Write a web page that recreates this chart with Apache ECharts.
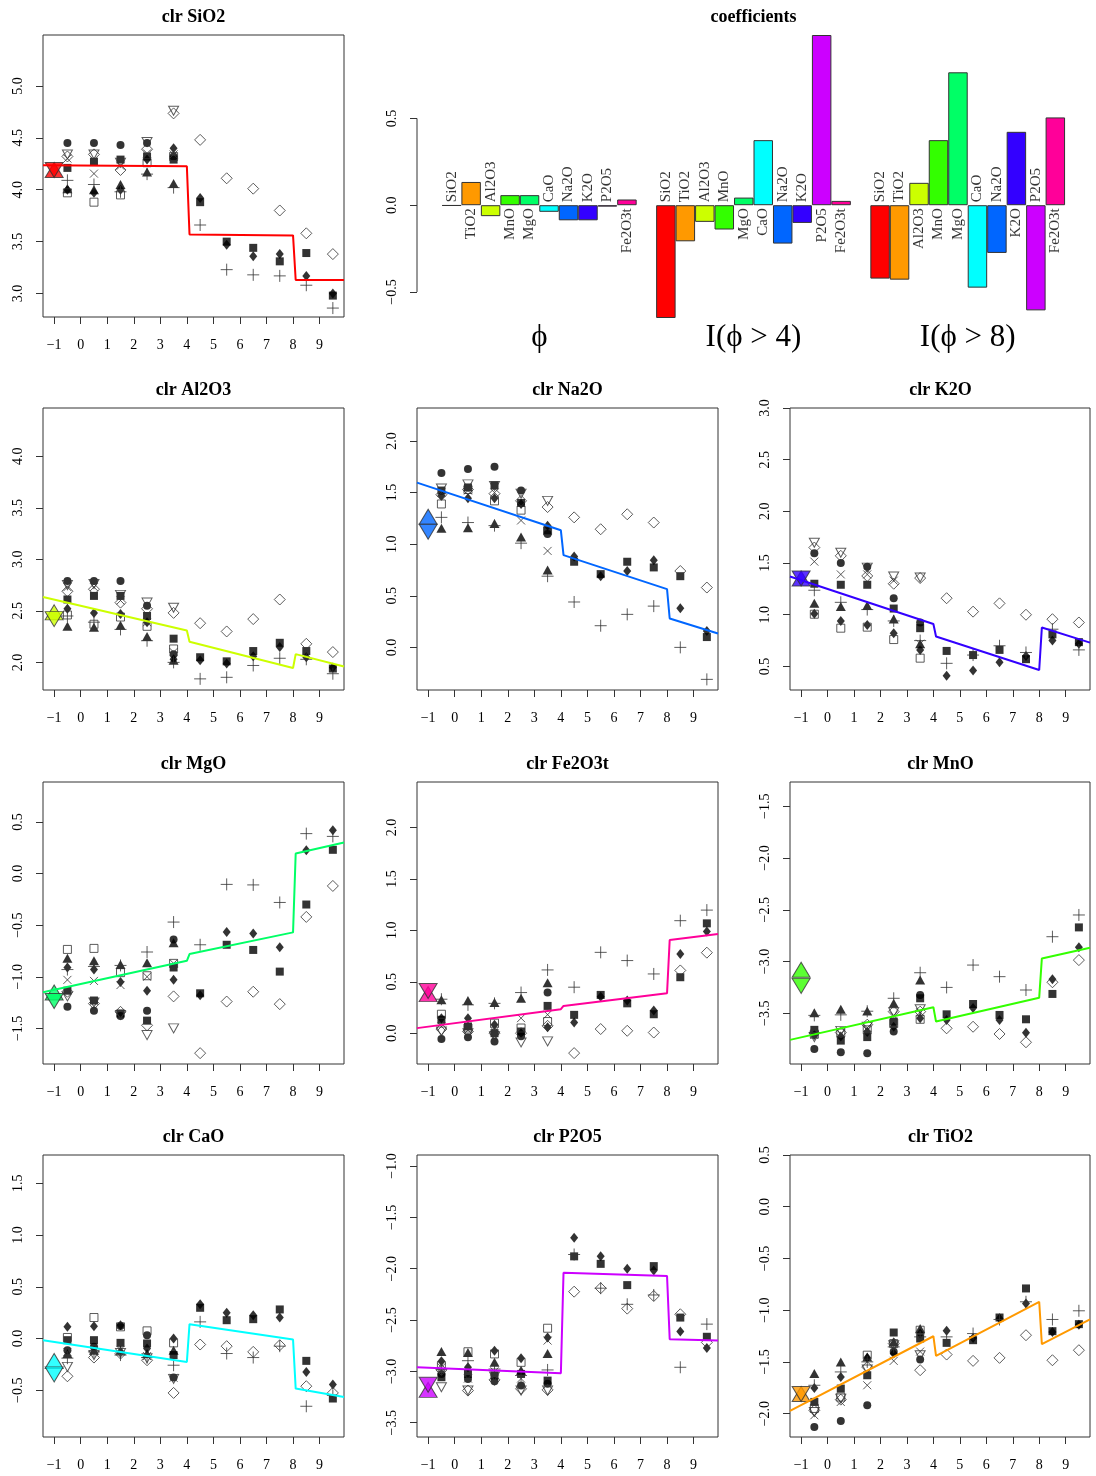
<!DOCTYPE html>
<html>
<head>
<meta charset="utf-8">
<script src="https://cdn.jsdelivr.net/npm/echarts@6/dist/echarts.min.js"></script>
<style>
  html, body { margin: 0; padding: 0; background: #fff; }
  #chart { width: 1096px; height: 1476px; }
</style>
</head>
<body>
<div id="chart"></div>
<script>
// grain-size classes (phi) and axis ticks
const phiMid = [-0.5, 0.5, 1.5, 2.5, 3.5, 4.5, 5.5, 6.5, 7.5, 8.5, 9.5]
const phiTicks = [-1, 0, 1, 2, 3, 4, 5, 6, 7, 8, 9]
const phiRange = [-1.42, 9.92]
const fitKnots = [-1.42, 4, 4.1, 8, 8.1, 9.92]

// the nine samples, each with its own marker; rows of every pts* array follow this order
const sampleMarks = ['fcirc', 'fsq', 'fdia', 'ftri', 'osq', 'odia', 'otri', 'xcross', 'plus']

const components = ['SiO2', 'TiO2', 'Al2O3', 'MnO', 'MgO', 'CaO', 'Na2O', 'K2O', 'P2O5', 'Fe2O3t']
const componentColors = ['#FF0000', '#FF9900', '#CCFF00', '#33FF00', '#00FF66', '#00FFFF', '#0066FF', '#3300FF', '#CC00FF', '#FF0099']

// regression coefficients
const coefPhi = [-0.003, 0.134, -0.063, 0.058, 0.058, -0.038, -0.087, -0.087, -0.008, 0.033]
const coefPhi4 = [-0.65, -0.208, -0.096, -0.14, 0.044, 0.375, -0.221, -0.102, 0.981, 0.025]
const coefPhi8 = [-0.423, -0.429, 0.129, 0.375, 0.766, -0.475, -0.275, 0.423, -0.606, 0.506]
const coefGroups = ['\u03d5', 'I(\u03d5 > 4)', 'I(\u03d5 > 8)']
const coefTicks = [-0.5, 0, 0.5]
const coefRange = [-0.65, 0.981]

// clr values per sample
const ptsSiO2 = [
  [4.45, 4.45, 4.43, 4.45, 4.32],
  [4.21, 4.27, 4.29, 4.32, 4.29, 3.88, 3.50, 3.44, 3.31, 3.39, 2.98],
  [4.00, 3.97, 4.00, 4.29, 4.40, 3.92, 3.47, 3.36, 3.38, 3.17, 3.00],
  [4.01, 4.00, 4.05, 4.17, 4.06],
  [3.97, 3.88, 3.95, 4.26, 4.32],
  [4.32, 4.34, 4.19, 4.39, 4.735, 4.48, 4.11, 4.01, 3.80, 3.58, 3.38],
  [4.34, 4.34, 4.26, 4.46, 4.76],
  [4.30, 4.155, 4.23, 4.35, 4.34],
  [4.09, 4.05, 3.98, 4.15, 4.02, 3.66, 3.23, 3.18, 3.17, 3.08, 2.86]
]
const ptsAl2O3 = [
  [2.79, 2.79, 2.79, 2.55, 2.08],
  [2.61, 2.645, 2.645, 2.45, 2.23, 2.05, 2.01, 2.11, 2.19, 2.11, 1.94],
  [2.52, 2.48, 2.47, 2.39, 2.03, 2.02, 1.99, 2.06, 2.15, 2.05, 1.95],
  [2.35, 2.34, 2.36, 2.25, 2.02],
  [2.46, 2.37, 2.44, 2.35, 2.13],
  [2.69, 2.71, 2.58, 2.52, 2.48, 2.38, 2.30, 2.42, 2.61, 2.18, 2.10],
  [2.75, 2.76, 2.655, 2.58, 2.53],
  [2.73, 2.73, 2.60, 2.39, 2.10],
  [2.45, 2.39, 2.32, 2.21, 2.00, 1.84, 1.855, 1.97, 2.04, 2.03, 1.89]
]
const ptsNa2O = [
  [1.69, 1.73, 1.75, 1.52, 1.10],
  [1.52, 1.55, 1.57, 1.40, 1.13, 0.83, 0.71, 0.83, 0.775, 0.69, 0.10],
  [1.47, 1.445, 1.445, 1.39, 1.18, 0.88, 0.69, 0.74, 0.845, 0.38, 0.16],
  [1.155, 1.16, 1.20, 1.07, 0.75],
  [1.39, 1.53, 1.42, 1.33, 1.13],
  [1.48, 1.53, 1.49, 1.42, 1.36, 1.26, 1.145, 1.29, 1.21, 0.74, 0.58],
  [1.54, 1.58, 1.565, 1.49, 1.42],
  [1.50, 1.52, 1.50, 1.23, 0.935],
  [1.26, 1.21, 1.18, 1.01, 0.69, 0.44, 0.21, 0.32, 0.40, 0.00, -0.31]
]
const ptsK2O = [
  [1.594, 1.50, 1.465, 1.16, 0.925],
  [1.30, 1.29, 1.29, 1.06, 0.87, 0.65, 0.61, 0.66, 0.57, 0.81, 0.735],
  [1.01, 0.94, 0.90, 0.82, 0.66, 0.41, 0.46, 0.54, 0.60, 0.75, 0.72],
  [1.11, 1.08, 1.09, 0.96, 0.72],
  [1.005, 0.87, 0.88, 0.76, 0.58],
  [1.65, 1.57, 1.375, 1.30, 1.355, 1.16, 1.03, 1.11, 1.00, 0.957, 0.925],
  [1.697, 1.60, 1.456, 1.37, 1.36],
  [1.514, 1.39, 1.39, 1.33, 0.72],
  [1.237, 1.12, 1.05, 0.94, 0.75, 0.53, 0.61, 0.70, 0.635, 0.86, 0.66]
]
const ptsMgO = [
  [-1.29, -1.33, -1.38, -1.33, -0.64],
  [-1.135, -1.23, -1.355, -1.425, -0.91, -1.16, -0.69, -0.74, -0.95, -0.30, 0.23],
  [-0.91, -0.93, -1.05, -1.135, -1.03, -1.18, -0.565, -0.58, -0.715, 0.226, 0.42],
  [-0.82, -0.845, -0.88, -0.865, -0.67],
  [-0.735, -0.725, -0.96, -0.99, -0.87],
  [-1.145, -1.26, -1.34, -1.47, -1.19, -1.74, -1.24, -1.145, -1.265, -0.42, -0.12],
  [-1.19, -1.25, -1.37, -1.565, -1.50],
  [-1.03, -1.04, -1.08, -1.00, -0.87],
  [-0.93, -0.90, -0.89, -0.76, -0.47, -0.69, -0.105, -0.11, -0.28, 0.387, 0.36]
]
const ptsFe2O3t = [
  [-0.058, -0.04, -0.08, -0.03, 0.395],
  [0.13, 0.065, 0.0, 0.016, 0.265, 0.178, 0.372, 0.29, 0.184, 0.544, 1.068],
  [0.146, 0.146, 0.081, 0.0, 0.058, 0.104, 0.355, 0.317, 0.22, 0.77, 0.99],
  [0.324, 0.317, 0.298, 0.34, 0.49],
  [0.184, 0.05, 0.097, 0.05, 0.113],
  [0.04, 0.016, 0.0, 0.0, 0.071, -0.194, 0.04, 0.023, 0.006, 0.61, 0.783],
  [0.016, 0.0, -0.03, -0.09, -0.08],
  [0.065, 0.03, 0.02, 0.146, 0.18],
  [0.33, 0.275, 0.29, 0.395, 0.615, 0.447, 0.786, 0.706, 0.576, 1.094, 1.197]
]
const ptsMnO = [
  [-3.844, -3.876, -3.886, -3.677, -3.323],
  [-3.66, -3.764, -3.73, -3.58, -3.355, -3.51, -3.41, -3.516, -3.558, -3.313, -2.67],
  [-3.71, -3.725, -3.68, -3.63, -3.548, -3.564, -3.45, -3.564, -3.687, -3.172, -2.863],
  [-3.494, -3.46, -3.477, -3.404, -3.178],
  [-3.70, -3.69, -3.66, -3.60, -3.558],
  [-3.69, -3.686, -3.61, -3.484, -3.484, -3.645, -3.63, -3.70, -3.78, -3.20, -2.986],
  [-3.73, -3.67, -3.63, -3.49, -3.46],
  [-3.71, -3.70, -3.64, -3.52, -3.49],
  [-3.52, -3.515, -3.48, -3.355, -3.108, -3.25, -3.034, -3.146, -3.275, -2.76, -2.55]
]
const ptsCaO = [
  [-0.113, -0.08, 0.12, 0.032, -0.377],
  [-0.016, -0.016, -0.042, -0.048, -0.16, 0.297, 0.177, 0.187, 0.281, -0.216, -0.58],
  [0.113, 0.119, 0.129, -0.097, 0.0, 0.332, 0.248, 0.226, 0.203, -0.323, -0.445],
  [-0.145, -0.113, -0.113, -0.145, -0.113],
  [0.01, 0.203, 0.113, 0.074, -0.042],
  [-0.365, -0.184, -0.145, -0.21, -0.526, -0.058, -0.074, -0.129, -0.065, -0.461, -0.526],
  [-0.274, -0.16, -0.14, -0.19, -0.39],
  [-0.13, -0.12, -0.11, -0.17, -0.38],
  [-0.19, -0.129, -0.16, -0.184, -0.258, 0.161, -0.145, -0.184, -0.074, -0.655, -0.55]
]
const ptsP2O5 = [
  [-3.025, -3.074, -3.096, -3.138, -3.12],
  [-3.057, -3.025, -3.04, -3.025, -3.09, -1.88, -1.953, -2.16, -1.975, -2.476, -2.663],
  [-2.902, -2.96, -2.80, -2.873, -2.67, -1.70, -1.88, -2.0, -2.017, -2.612, -2.773],
  [-2.806, -2.815, -2.91, -2.99, -2.825],
  [-2.944, -2.809, -2.83, -2.912, -2.58],
  [-2.986, -3.187, -3.083, -3.17, -3.18, -2.224, -2.19, -2.389, -2.266, -2.444, -2.718],
  [-3.154, -3.187, -3.05, -3.187, -3.187],
  [-2.96, -3.07, -3.0, -3.07, -2.70],
  [-2.977, -2.896, -2.977, -3.04, -2.986, -1.862, -2.19, -2.347, -2.256, -2.96, -2.54]
]
const ptsTiO2 = [
  [-2.129, -2.071, -1.919, -1.403, -1.477],
  [-1.887, -1.758, -1.629, -1.216, -1.274, -1.316, -1.29, -1.071, -0.79, -1.203, -1.135],
  [-1.752, -1.645, -1.46, -1.419, -1.226, -1.2, -1.27, -1.08, -0.935, -1.21, -1.14],
  [-1.613, -1.5, -1.452, -1.306, -1.177],
  [-1.95, -1.84, -1.435, -1.323, -1.194],
  [-1.968, -1.865, -1.55, -1.323, -1.58, -1.429, -1.49, -1.461, -1.242, -1.484, -1.387],
  [-1.984, -1.855, -1.574, -1.34, -1.435],
  [-2.016, -1.887, -1.726, -1.49, -1.40],
  [-1.726, -1.597, -1.5, -1.355, -1.258, -1.258, -1.226, -1.09, -0.919, -1.09, -1.006]
]

// fitted line, read at fitKnots
const fitSiO2 = [4.235, 4.225, 3.568, 3.56, 3.13, 3.13]
const fitAl2O3 = [2.635, 2.31, 2.2, 1.945, 2.08, 1.96]
const fitNa2O = [1.597, 1.135, 0.894, 0.565, 0.28, 0.135]
const fitK2O = [1.37, 0.91, 0.79, 0.465, 0.876, 0.73]
const fitMgO = [-1.15, -0.845, -0.78, -0.57, 0.194, 0.3]
const fitFe2O3t = [0.049, 0.233, 0.265, 0.388, 0.906, 0.964]
const fitMnO = [-3.757, -3.442, -3.58, -3.349, -2.97, -2.867]
const fitCaO = [-0.016, -0.226, 0.139, -0.01, -0.484, -0.565]
const fitP2O5 = [-2.96, -3.019, -2.04, -2.072, -2.686, -2.70]
const fitTiO2 = [-1.974, -1.252, -1.442, -0.919, -1.329, -1.09]

// reference marker at phi = -1: [triangle up, triangle down]
const refSiO2 = [4.19, 4.19]
const refAl2O3 = [2.485, 2.42]
const refNa2O = [1.266, 1.12]
const refK2O = [1.35, 1.35]
const refMgO = [-1.153, -1.234]
const refFe2O3t = [0.38, 0.41]
const refMnO = [-3.08, -3.235]
const refCaO = [-0.218, -0.347]
const refP2O5 = [-3.18, -3.13]
const refTiO2 = [-1.81, -1.81]

// panels in reading order, with their y limits and ticks
const panelComp = ['SiO2', 'Al2O3', 'Na2O', 'K2O', 'MgO', 'Fe2O3t', 'MnO', 'CaO', 'P2O5', 'TiO2']
const panelYLim = [[2.774, 5.49], [1.732, 4.468], [-0.413, 2.32], [0.272, 3.0], [-1.845, 0.887],
  [-0.30, 2.443], [-3.99, -1.265], [-0.952, 1.774], [-3.639, -0.893], [-2.226, 0.5]]
const panelYTicks = [
  [3, 3.5, 4, 4.5, 5], [2, 2.5, 3, 3.5, 4], [0, 0.5, 1, 1.5, 2], [0.5, 1, 1.5, 2, 2.5, 3],
  [-1.5, -1, -0.5, 0, 0.5], [0, 0.5, 1, 1.5, 2], [-3.5, -3, -2.5, -2, -1.5], [-0.5, 0, 0.5, 1, 1.5],
  [-3.5, -3, -2.5, -2, -1.5, -1], [-2, -1.5, -1, -0.5, 0, 0.5]
]

const pointSets = { SiO2: ptsSiO2, Al2O3: ptsAl2O3, Na2O: ptsNa2O, K2O: ptsK2O, MgO: ptsMgO,
  Fe2O3t: ptsFe2O3t, MnO: ptsMnO, CaO: ptsCaO, P2O5: ptsP2O5, TiO2: ptsTiO2 }
const fitSets = { SiO2: fitSiO2, Al2O3: fitAl2O3, Na2O: fitNa2O, K2O: fitK2O, MgO: fitMgO,
  Fe2O3t: fitFe2O3t, MnO: fitMnO, CaO: fitCaO, P2O5: fitP2O5, TiO2: fitTiO2 }
const refSets = { SiO2: refSiO2, Al2O3: refAl2O3, Na2O: refNa2O, K2O: refK2O, MgO: refMgO,
  Fe2O3t: refFe2O3t, MnO: refMnO, CaO: refCaO, P2O5: refP2O5, TiO2: refTiO2 }

// layout
const panelCell = [[0, 0], [1, 0], [1, 1], [1, 2], [2, 0], [2, 1], [2, 2], [3, 0], [3, 1], [3, 2]]
const colLeft = [43, 417, 790]
const rowTop = [35, 408, 782, 1155]
const boxW = 301
const boxH = 282
const coefBox = { left: 417, top: 35, width: 673, height: 283 }
const coefXRange = [-0.28, 34.28]

const serif = '"Liberation Serif", "DejaVu Serif", serif'
const ink = '#333'
const minus = (v) => String(v).replace('-', '\u2212')
const fmt1 = (v) => minus(Number(v).toFixed(1))

function markStyle(mk) {
  const open = { color: 'rgba(0,0,0,0)', borderColor: ink, borderWidth: 1 }
  switch (mk) {
    case 'fcirc': return { symbol: 'circle', symbolSize: 8, itemStyle: { color: '#000' } }
    case 'fsq': return { symbol: 'rect', symbolSize: 8, itemStyle: { color: '#000' } }
    case 'fdia': return { symbol: 'diamond', symbolSize: [8, 10], itemStyle: { color: '#000' } }
    case 'ftri': return { symbol: 'triangle', symbolSize: [10, 9], itemStyle: { color: '#000' } }
    case 'osq': return { symbol: 'rect', symbolSize: 8, itemStyle: open }
    case 'odia': return { symbol: 'diamond', symbolSize: 11, itemStyle: open }
    case 'otri': return { symbol: 'triangle', symbolRotate: 180, symbolSize: [10, 9], itemStyle: open }
    case 'xcross': return { symbol: 'path://M0,0L10,10M10,0L0,10', symbolSize: 8, itemStyle: open }
    default: return { symbol: 'path://M0,5L10,5M5,0L5,10', symbolSize: 12, itemStyle: open }
  }
}

const grids = []
const xAxes = []
const yAxes = []
const titles = []
const series = []

panelComp.forEach((comp, p) => {
  const [r, c] = panelCell[p]
  const color = componentColors[components.indexOf(comp)]
  grids.push({
    left: colLeft[c], top: rowTop[r], width: c === 2 ? boxW - 1 : boxW, height: boxH,
    show: true, borderColor: ink, borderWidth: 1, backgroundColor: 'transparent',
    outerBoundsMode: 'none'
  })
  titles.push({
    text: 'clr ' + comp, left: colLeft[c] + boxW / 2, top: rowTop[r] - 27, textAlign: 'center', padding: 0,
    textStyle: { fontFamily: serif, fontWeight: 'bold', fontSize: 18, color: '#000' }
  })
  xAxes.push({
    type: 'value', gridIndex: p, min: phiRange[0], max: phiRange[1],
    axisLine: { show: false, onZero: false }, splitLine: { show: false },
    axisTick: { show: true, customValues: phiTicks, length: 7, lineStyle: { color: ink } },
    axisLabel: { customValues: phiTicks, formatter: minus, fontFamily: serif, fontSize: 14, color: '#000', margin: 21 }
  })
  yAxes.push({
    type: 'value', gridIndex: p, min: panelYLim[p][0], max: panelYLim[p][1],
    axisLine: { show: false, onZero: false }, splitLine: { show: false },
    axisTick: { show: true, customValues: panelYTicks[p], length: 7, lineStyle: { color: ink } },
    axisLabel: { customValues: panelYTicks[p], rotate: 90, formatter: fmt1, fontFamily: serif, fontSize: 14, color: '#000', margin: 18 }
  })

  const pts = pointSets[comp]
  sampleMarks.forEach((mk, k) => {
    series.push(Object.assign({
      type: 'scatter', xAxisIndex: p, yAxisIndex: p, silent: true,
      data: pts[k].map((v, i) => [phiMid[i], v])
    }, markStyle(mk)))
  })

  series.push({
    type: 'line', xAxisIndex: p, yAxisIndex: p, silent: true, symbol: 'none', clip: true,
    data: fitKnots.map((x, i) => [x, fitSets[comp][i]]),
    lineStyle: { color: color, width: 2 }
  })

  const ref = refSets[comp]
  const refStyle = { color: color, borderColor: ink, borderWidth: 1 }
  series.push({
    type: 'scatter', xAxisIndex: p, yAxisIndex: p, silent: true, symbol: 'triangle',
    symbolSize: [18, 15], itemStyle: refStyle, data: [[-1, ref[0]]]
  })
  series.push({
    type: 'scatter', xAxisIndex: p, yAxisIndex: p, silent: true, symbol: 'triangle', symbolRotate: 180,
    symbolSize: [18, 15], itemStyle: refStyle, data: [[-1, ref[1]]]
  })
})

// coefficients bar panel
const cg = grids.length
grids.push(Object.assign({ show: false, outerBoundsMode: 'none' }, coefBox))
titles.push({
  text: 'coefficients', left: coefBox.left + coefBox.width / 2, top: 8, textAlign: 'center', padding: 0,
  textStyle: { fontFamily: serif, fontWeight: 'bold', fontSize: 18, color: '#000' }
})
const groupCenters = coefGroups.map((g, i) => 6 + 11 * i)
xAxes.push({
  type: 'value', gridIndex: cg, min: coefXRange[0], max: coefXRange[1],
  axisLine: { show: false, onZero: false }, axisTick: { show: false }, splitLine: { show: false },
  axisLabel: {
    customValues: groupCenters, formatter: (v) => coefGroups[groupCenters.indexOf(v)],
    fontFamily: serif, fontSize: 31, color: '#000', margin: 4
  }
})
yAxes.push({
  type: 'value', gridIndex: cg, min: coefRange[0], max: coefRange[1],
  axisLine: { show: false, onZero: false }, splitLine: { show: false },
  axisTick: { show: true, customValues: coefTicks, length: 7, lineStyle: { color: ink } },
  axisLabel: { customValues: coefTicks, rotate: 90, formatter: fmt1, fontFamily: serif, fontSize: 14, color: '#000', margin: 18 }
})

const barData = []
const barLabels = []
;[coefPhi, coefPhi4, coefPhi8].forEach((vals, g) => {
  vals.forEach((v, i) => {
    const xc = 1 + 11 * g + i + 0.5
    barData.push({ value: [xc, v], itemStyle: { color: componentColors[i] } })
    barLabels.push({
      value: [xc, 0], name: components[i],
      label: v < 0
        ? { align: 'left', padding: [0, 0, 0, 3] }
        : { align: 'right', padding: [0, 3, 0, 0] }
    })
  })
})
series.push({
  type: 'bar', xAxisIndex: cg, yAxisIndex: cg, silent: true,
  barWidth: coefBox.width / (coefXRange[1] - coefXRange[0]),
  itemStyle: { borderColor: ink, borderWidth: 1 },
  data: barData
})
series.push({
  type: 'scatter', xAxisIndex: cg, yAxisIndex: cg, silent: true, symbolSize: 1,
  itemStyle: { color: 'rgba(0,0,0,0)' },
  label: {
    show: true, position: 'inside', rotate: 90, verticalAlign: 'middle',
    formatter: (d) => d.name, fontFamily: serif, fontSize: 15, color: '#000'
  },
  data: barLabels
})
// y axis line of the bar panel only spans the ticks, as in the original
series.push({
  type: 'line', xAxisIndex: cg, yAxisIndex: cg, silent: true, symbol: 'none', clip: false,
  lineStyle: { color: ink, width: 1 },
  data: [[coefXRange[0], coefTicks[0]], [coefXRange[0], coefTicks[coefTicks.length - 1]]]
})

const chart = echarts.init(document.getElementById('chart'), null, { renderer: 'canvas' })
chart.setOption({
  animation: false,
  backgroundColor: '#fff',
  title: titles,
  grid: grids,
  xAxis: xAxes,
  yAxis: yAxes,
  series: series
})
</script>
</body>
</html>
